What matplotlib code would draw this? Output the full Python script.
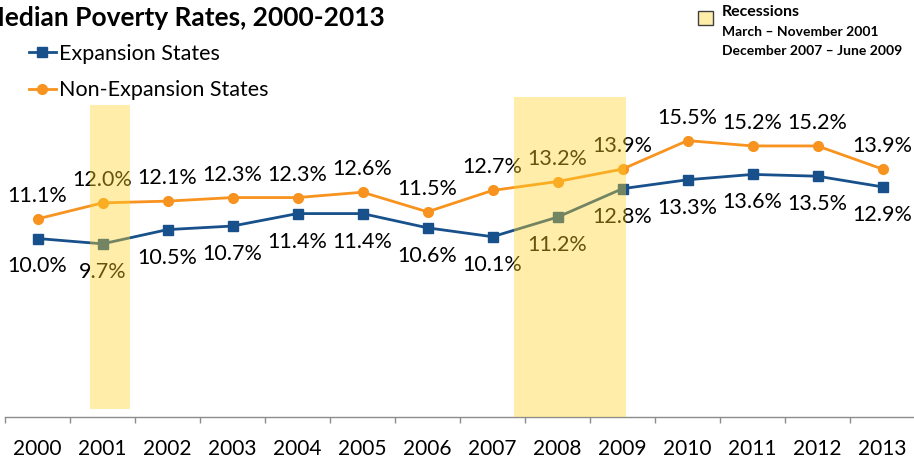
import matplotlib
matplotlib.use("Agg")
import matplotlib.pyplot as plt
from matplotlib.patches import Rectangle
from matplotlib.lines import Line2D

plt.rcParams['font.family'] = ['Lato', 'DejaVu Sans']

years = ["2000", "2001", "2002", "2003", "2004", "2005", "2006",
         "2007", "2008", "2009", "2010", "2011", "2012", "2013"]
expansion = [10.0, 9.7, 10.5, 10.7, 11.4, 11.4, 10.6,
             10.1, 11.2, 12.8, 13.3, 13.6, 13.5, 12.9]
non_expansion = [11.1, 12.0, 12.1, 12.3, 12.3, 12.6, 11.5,
                 12.7, 13.2, 13.9, 15.5, 15.2, 15.2, 13.9]

BLUE = "#17508A"
ORANGE = "#F7931E"
SHADE = (1.0, 0.83, 0.16)
SHADE_ALPHA = 0.4

W, H = 914, 458
fig = plt.figure(figsize=(W / 100, H / 100), dpi=100)
ax = fig.add_axes([5 / W, 41.5 / H, 910 / W, 356 / H])

x = list(range(len(years)))
ax.plot(x, expansion, color=BLUE, lw=2.0, marker="s", ms=7, zorder=3)
ax.plot(x, non_expansion, color=ORANGE, lw=2.0, marker="o", ms=7, zorder=3)

for xi, v in zip(x, non_expansion):
    ax.annotate(f"{v:.1f}%", (xi, v), xytext=(0, 23), textcoords="offset pixels",
                ha="center", va="center", fontsize=15.5, color="black", zorder=2)
for xi, v in zip(x, expansion):
    ax.annotate(f"{v:.1f}%", (xi, v), xytext=(0, -28), textcoords="offset pixels",
                ha="center", va="center", fontsize=15.5, color="black", zorder=2)

# recession shading (drawn over the lines, semi-transparent)
ax.add_patch(Rectangle((0.81, 0.42), 0.615, 17.1, facecolor=SHADE,
                       alpha=SHADE_ALPHA, lw=0, zorder=5))
ax.add_patch(Rectangle((7.33, 0.0), 1.72, 17.95, facecolor=SHADE,
                       alpha=SHADE_ALPHA, lw=0, zorder=5))

ax.set_xlim(-0.5, 13.5)
ax.set_ylim(0, 20)
for s in ("left", "top", "right"):
    ax.spines[s].set_visible(False)
ax.spines["bottom"].set_color("#8C8C8C")
ax.spines["bottom"].set_linewidth(1.0)
ax.set_yticks([])
ax.set_xticks(x)
ax.set_xticklabels(years, fontsize=15)
ax.set_xticks([i - 0.5 for i in range(len(years) + 1)], minor=True)
ax.tick_params(axis="x", which="major", length=0, pad=16)
ax.tick_params(axis="x", which="minor", length=4.5, color="#8C8C8C", width=1.0)

fig.text(-20 / W, 1 - 18 / H, "Median Poverty Rates, 2000-2013",
         fontsize=19, fontweight="bold", ha="left", va="center")

handles = [Line2D([], [], color=BLUE, lw=2.0, marker="s", ms=7),
           Line2D([], [], color=ORANGE, lw=2.0, marker="o", ms=7)]
fig.legend(handles, ["Expansion States", "Non-Expansion States"],
           loc="upper left", bbox_to_anchor=(29 / W, 1 - 44 / H),
           frameon=False, fontsize=15.5, handlelength=1.25, handletextpad=0.15,
           labelspacing=0.75, borderaxespad=0, borderpad=0)

fig.patches.append(Rectangle((698 / W, 1 - 25 / H), 15 / W, 14 / H,
                             transform=fig.transFigure, facecolor="#FFEEAA",
                             edgecolor="#404040", lw=1.0))
fig.text(722 / W, 1 - 12 / H, "Recessions", fontsize=11.5, fontweight="bold",
         ha="left", va="center")
fig.text(722 / W, 1 - 32 / H, "March \u2013 November 2001", fontsize=10,
         fontweight="bold", ha="left", va="center")
fig.text(722 / W, 1 - 51 / H, "December 2007 \u2013 June 2009", fontsize=10,
         fontweight="bold", ha="left", va="center")

fig.savefig("out.png", dpi=100)
